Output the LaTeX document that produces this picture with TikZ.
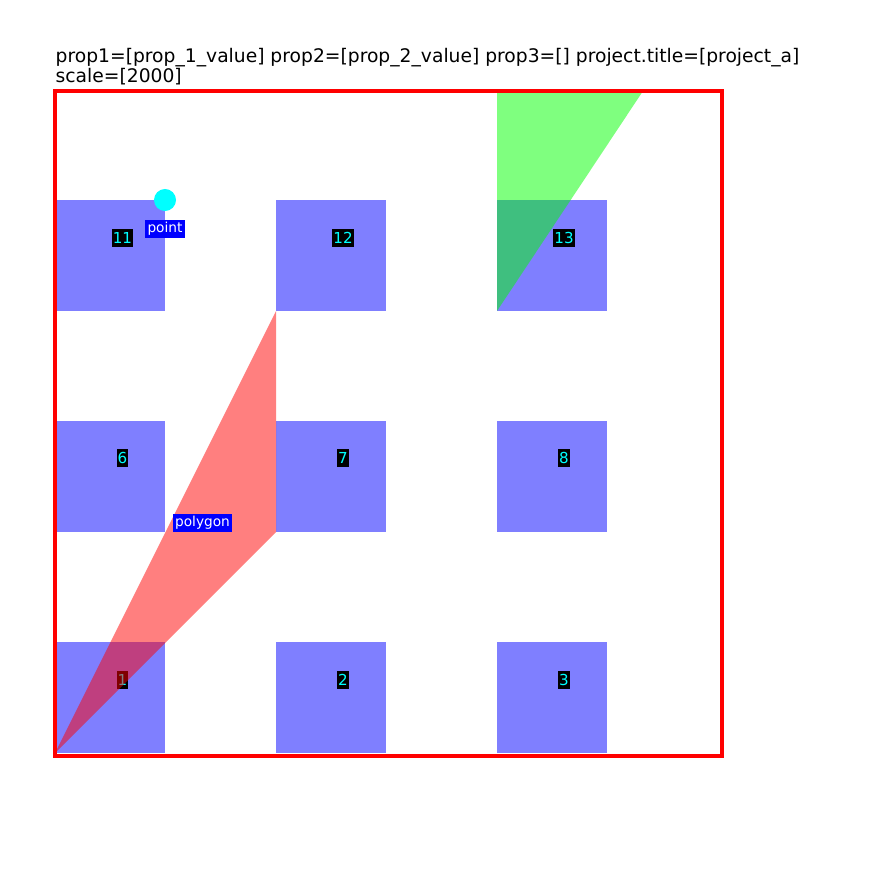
\documentclass[tikz,border=0pt]{standalone}
\usepackage{fontspec}
\setmainfont{DejaVu Sans}
\usetikzlibrary{positioning}
\definecolor{cellblue}{RGB}{0,0,255}
\definecolor{tagcyan}{RGB}{0,255,255}
\definecolor{shapered}{RGB}{255,0,0}
\definecolor{shapegreen}{RGB}{0,255,0}

\begin{document}
\begin{tikzpicture}[x=0.01cm, y=-0.01cm, node distance=0.05cm,
cell/.style={rectangle, fill=cellblue, fill opacity=0.5, minimum size=1.1cm, inner sep=0pt, name=#1},
tag/.style={fill=black, text=tagcyan, inner xsep=0.3pt, inner ysep=0.9pt, font=\fontsize{4.3pt}{4.5pt}\selectfont},
bluetag/.style={fill=cellblue, text=white, inner sep=0.6pt, font=\fontsize{3.9pt}{4pt}\selectfont},
dot/.style={circle, fill=tagcyan, minimum size=0.22cm, inner sep=0pt, name=#1}]

\useasboundingbox (0,0) rectangle (885,885);

%% cells
\node [cell=c1] at (110,697.5) {};
\node [cell=c2] at (331,697.5) {};
\node [cell=c3] at (552,697.5) {};
\node [cell=c6] at (110,476.5) {};
\node [cell=c7] at (331,476.5) {};
\node [cell=c8] at (552,476.5) {};
\node [cell=c11] at (110,255.5) {};
\node [cell=c12] at (331,255.5) {};
\node [cell=c13] at (552,255.5) {};

\node [tag] (t1) at (122.5,680) {1};
\node [tag] (t2) at (343,680) {2};
\node [tag] (t3) at (564,680) {3};
\node [tag] (t6) at (122.5,458) {6};
\node [tag] (t7) at (343,458) {7};
\node [tag] (t8) at (564,458) {8};
\node [tag] (t11) at (122.5,238) {11};
\node [tag] (t12) at (343,238) {12};
\node [tag] (t13) at (564,238) {13};

%% shapes
\fill[shapered, opacity=0.5] (55,753) -- (276,311) -- (276,532) -- cycle;
\fill[shapegreen, opacity=0.5] (497,91) -- (643,91) -- (497,311) -- cycle;

\node [dot=pt] at (165,200) {};
\node [bluetag] (ptlabel) at (165,229) {point};
\node [bluetag] (polylabel) at (202.5,523) {polygon};

%% frame
\draw [shapered, line width=1pt] (55,91) rectangle (722,756);

\node [anchor=base west, inner sep=0pt, font=\fontsize{5.32pt}{6pt}\selectfont] (title) at (55,63) {prop1=[prop\_1\_value] prop2=[prop\_2\_value] prop3=[] project.title=[project\_a]};
\node [anchor=base west, inner sep=0pt, font=\fontsize{5.32pt}{6pt}\selectfont] (scale) at (55,83) {scale=[2000]};

\end{tikzpicture}
\end{document}
